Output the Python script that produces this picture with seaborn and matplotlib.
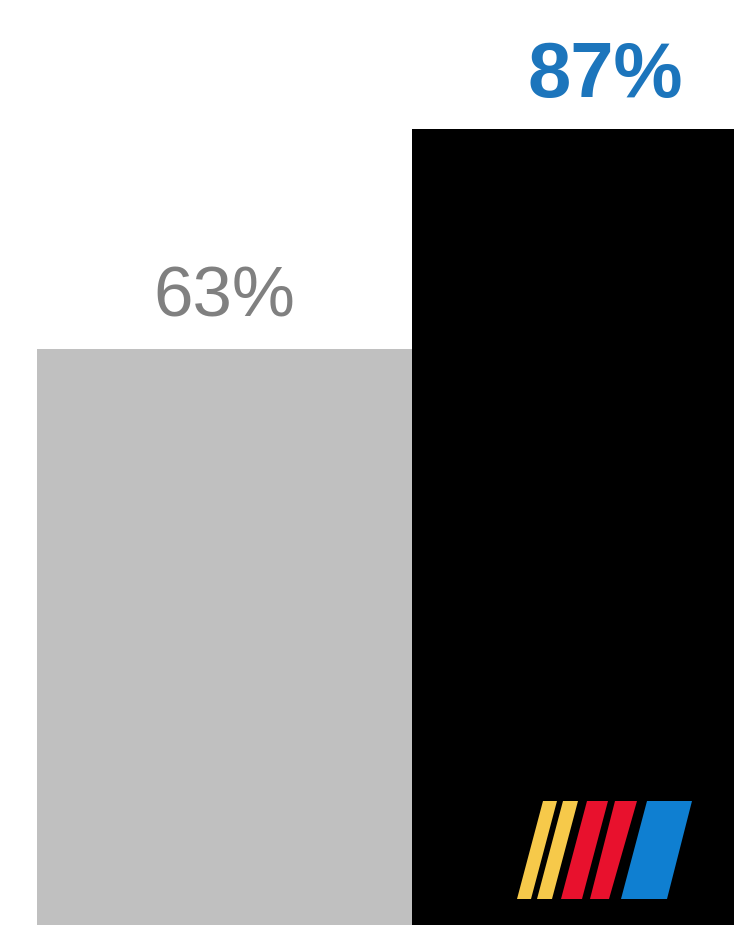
import matplotlib
matplotlib.use('Agg')
import matplotlib.pyplot as plt
import seaborn as sns
from matplotlib.patches import Polygon

categories = ['Other', 'NASCAR']
values = [63, 87]
labels = ['63%', '87%']
bar_colors = ['#c0c0c0', '#000000']
label_colors = ['#808080', '#1c75bc']
label_weights = ['normal', 'bold']
label_sizes = [51, 56]

sns.set_style('white')
plt.rcParams['font.family'] = ['Liberation Sans', 'DejaVu Sans']

fig = plt.figure(figsize=(7.34, 9.29), dpi=100)
ax = fig.add_axes([0, 0, 1, 1])

sns.barplot(x=categories, y=values, hue=categories, palette=bar_colors,
            width=1.0, linewidth=0, legend=False, ax=ax)

ax.set_xlim(-0.599, 1.359)
ax.set_ylim(-0.33, 101.2)
ax.axis('off')

for i, v in enumerate(values):
    ax.annotate(labels[i], xy=(i, v), xytext=(0 if i == 0 else 4, 24),
                textcoords='offset points', ha='center', va='baseline',
                color=label_colors[i], fontsize=label_sizes[i],
                fontweight=label_weights[i])

# NASCAR style stripe logo in the lower right corner of the black bar
W, H = 734, 929
stripes = [
    ([(517, 900), (531, 900), (557, 802), (543, 802)], '#f6c94a'),
    ([(537, 900), (552, 900), (578, 802), (563, 802)], '#f6c94a'),
    ([(561, 900), (582, 900), (608, 802), (587, 802)], '#e8112d'),
    ([(590, 900), (609, 900), (637, 802), (615, 802)], '#e8112d'),
    ([(621, 900), (667, 900), (692, 802), (647, 802)], '#0f7fd1'),
]
for pts, col in stripes:
    poly = Polygon([(x / W, 1 - y / H) for x, y in pts], closed=True,
                   facecolor=col, edgecolor='none', transform=fig.transFigure)
    fig.patches.append(poly)

fig.savefig('out.png', dpi=100)
